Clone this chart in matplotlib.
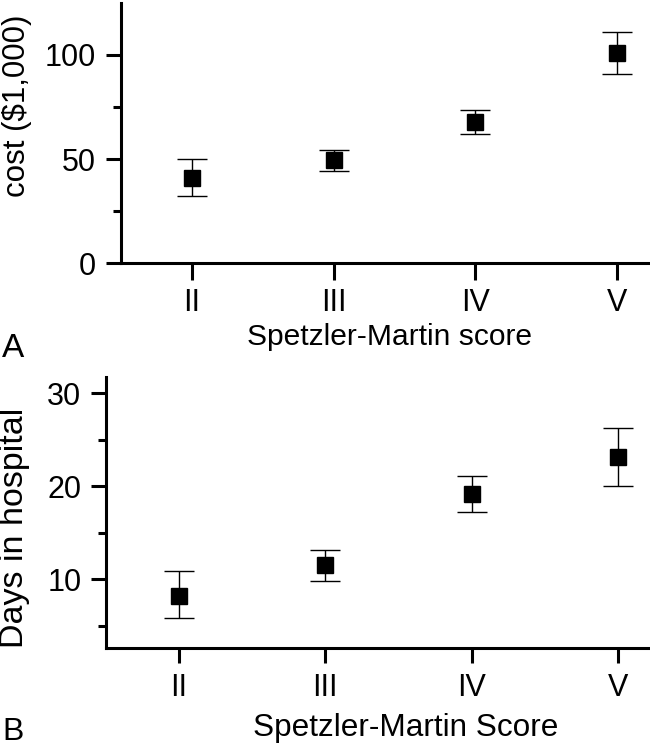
import matplotlib
matplotlib.use("Agg")
import matplotlib.pyplot as plt
from matplotlib.ticker import FixedLocator

plt.rcParams['font.family'] = ['Liberation Sans', 'DejaVu Sans']

# ---- data ----
categories = ["II", "III", "IV", "V"]
x_pos = [2, 3, 4, 5]

cost_mean = [40.8, 49.4, 67.7, 100.8]
cost_upper = [49.8, 54.5, 73.3, 110.8]
cost_lower = [32.3, 44.3, 62.0, 90.7]

days_mean = [8.2, 11.5, 19.2, 23.1]
days_upper = [10.9, 13.1, 21.1, 26.3]
days_lower = [5.8, 9.85, 17.2, 20.0]

W, H = 650, 748
fig = plt.figure(figsize=(W / 100, H / 100), dpi=100)

def px_axes(left, top, right, bottom):
    return fig.add_axes([left / W, 1 - bottom / H, (right - left) / W, (bottom - top) / H])

axA = px_axes(120.7, 2.7, 650, 263.3)
axB = px_axes(106, 377.3, 650, 648)

def style(ax):
    for s in ['top', 'right']:
        ax.spines[s].set_visible(False)
    for s in ['left', 'bottom']:
        ax.spines[s].set_linewidth(2.2)
    ax.tick_params(axis='both', which='major', width=2.2, length=10.8,
                   labelsize=22, direction='out')
    ax.tick_params(axis='both', which='minor', width=2.2, length=5.8)
    ax.tick_params(axis='y', pad=7)
    ax.tick_params(axis='x', pad=6)

def draw(ax, mean, lower, upper):
    yerr = [[m - lo for m, lo in zip(mean, lower)],
            [up - m for m, up in zip(mean, upper)]]
    ax.errorbar(x_pos, mean, yerr=yerr, fmt='s', color='black', ms=11.5,
                ecolor='black', elinewidth=1.0, capsize=10.8, capthick=1.0,
                clip_on=False)

# Panel A
draw(axA, cost_mean, cost_lower, cost_upper)
style(axA)
axA.set_xlim(1.5, 5.23)
axA.set_ylim(0, 125)
axA.set_xticks(x_pos)
axA.set_xticklabels(categories)
axA.set_yticks([0, 50, 100])
axA.yaxis.set_minor_locator(FixedLocator([25, 75]))
axA.tick_params(axis='x', length=12)
axA.set_ylabel("cost ($1,000)", fontsize=22.5, ha='center', va='center')
axA.yaxis.set_label_coords(-0.196, 0.604)
axA.set_xlabel("Spetzler-Martin score", fontsize=21.6, ha='center', va='center')
axA.xaxis.set_label_coords(0.507, -0.283)

# Panel B
draw(axB, days_mean, days_lower, days_upper)
style(axB)
axB.set_xlim(1.5, 5.22)
axB.set_ylim(2.61, 31.7)
axB.set_xticks(x_pos)
axB.set_xticklabels(categories)
axB.set_yticks([10, 20, 30])
axB.yaxis.set_minor_locator(FixedLocator([5, 15, 25]))
axB.tick_params(axis='x', pad=7)
axB.set_ylabel("Days in hospital", fontsize=24.5, ha='center', va='center')
axB.yaxis.set_label_coords(-0.169, 0.443)
axB.set_xlabel("Spetzler-Martin Score", fontsize=22.7, ha='center', va='center')
axB.xaxis.set_label_coords(0.551, -0.296)

fig.text(2 / W, 1 - 357 / H, "A", fontsize=24, ha='left', va='baseline')
fig.text(2 / W, 1 - 747.5 / H, "B", fontsize=23, ha='left', va='bottom')

fig.savefig("out.png", dpi=100)
